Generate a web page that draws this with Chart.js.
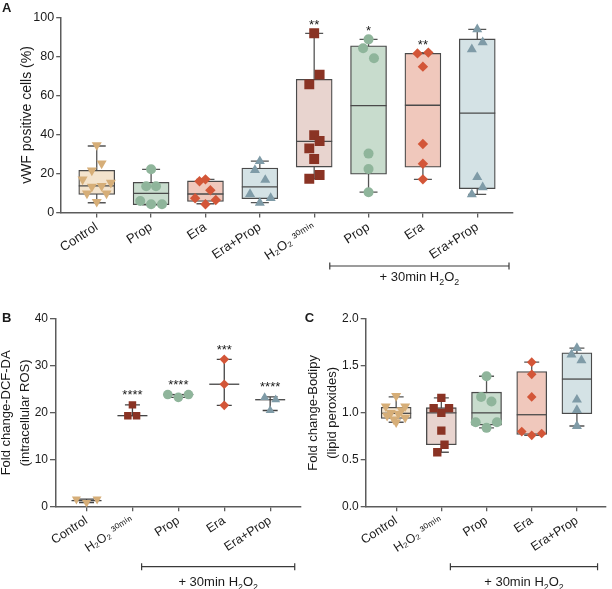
<!DOCTYPE html>
<html><head><meta charset="utf-8">
<script src="https://cdn.jsdelivr.net/npm/chart.js@4.4.1/dist/chart.umd.min.js"></script>
<style>
html,body{margin:0;padding:0;background:#fff;}
#wrap{position:relative;width:612px;height:589px;overflow:hidden;background:#fff;}
canvas{position:absolute;}
</style></head><body>
<div id="wrap">
<canvas id="cA" style="left:0;top:0"></canvas>
<canvas id="cB" style="left:0;top:300px"></canvas>
<canvas id="cC" style="left:300px;top:300px"></canvas>
</div>
<script>
// ---------------- DATA ----------------
// Panel A : vWF positive cells (%)
const catsA = ['Control', 'Prop', 'Era', 'Era+Prop', 'H₂O₂ ³⁰ᵐⁱⁿ', 'Prop', 'Era', 'Era+Prop'];
const yTicksA = [0, 20, 40, 60, 80, 100];
const minA = [5.0, 3.9, 4.5, 5.1, 17.3, 10.4, 17.0, 9.3];
const q1A  = [9.3, 4.0, 5.7, 7.1, 23.3, 19.6, 23.2, 12.2];
const medA = [13.7, 9.8, 9.5, 13.1, 36.5, 54.8, 55.0, 51.0];
const q3A  = [21.6, 15.5, 16.2, 22.8, 68.3, 85.5, 81.6, 89.0];
const maxA = [34.1, 22.1, 17.0, 26.3, 91.9, 88.8, 82.0, 93.9];
const starsA = ['', '', '', '', '**', '*', '**', ''];
const A_control   = [34.6, 25.2, 21.6, 17.0, 15.3, 13.2, 13.6, 9.8, 9.8, 5.5];
const A_prop      = [22.2, 13.5, 13.5, 5.9, 4.2, 4.2];
const A_era       = [16.0, 17.0, 11.4, 7.3, 6.4, 4.2];
const A_eraProp   = [26.3, 21.8, 16.7, 9.5, 7.4, 5.0];
const A_h2o2      = [91.9, 70.7, 65.7, 39.7, 36.7, 32.9, 27.4, 19.2, 17.3];
const A_h2o2Prop  = [88.8, 84.2, 79.1, 30.2, 22.3, 10.4];
const A_h2o2Era   = [81.6, 82.0, 74.8, 35.1, 25.0, 17.0];
const A_h2o2EraProp = [93.9, 87.3, 83.7, 18.1, 12.9, 9.3];

// Panel B : Fold change DCF-DA (median with range)
const catsB = ['Control', 'H₂O₂ ³⁰ᵐⁱⁿ', 'Prop', 'Era', 'Era+Prop'];
const yTicksB = [0, 10, 20, 30, 40];
const minB = [0.9, 19.4, 23.3, 21.6, 20.5];
const medB = [1.3, 19.4, 23.9, 26.1, 22.8];
const maxB = [1.6, 21.7, 23.9, 31.4, 23.4];
const starsB = ['', '****', '****', '***', '****'];
const B_control = [1.6, 0.9, 1.6];
const B_h2o2    = [21.7, 19.4, 19.4];
const B_prop    = [23.9, 23.3, 23.9];
const B_era     = [31.4, 26.1, 21.6];
const B_eraProp = [23.3, 22.8, 20.5];

// Panel C : Fold change Bodipy
const catsC = ['Control', 'H₂O₂ ³⁰ᵐⁱⁿ', 'Prop', 'Era', 'Era+Prop'];
const yTicksC = [0, 0.5, 1.0, 1.5, 2.0];
const minC = [0.90, 0.58, 0.84, 0.76, 0.86];
const q1C  = [0.94, 0.66, 0.87, 0.77, 0.99];
const medC = [0.995, 1.0, 1.0, 0.98, 1.36];
const q3C  = [1.06, 1.055, 1.22, 1.44, 1.64];
const maxC = [1.17, 1.16, 1.39, 1.54, 1.69];
const C_control = [1.18, 1.07, 1.07, 1.03, 1.0, 0.99, 0.97, 0.95, 0.93, 0.90];
const C_h2o2    = [1.16, 1.05, 1.05, 1.0, 0.81, 0.66, 0.58];
const C_prop    = [1.39, 1.17, 1.12, 0.90, 0.90, 0.84];
const C_era     = [1.54, 1.41, 1.17, 0.80, 0.76, 0.78];
const C_eraProp = [1.62, 1.69, 1.56, 1.14, 1.03, 0.86];

// horizontal scatter of the dots inside each column (category units)
const jA = [[0,.09,-.09,-.26,.26,-.09,.09,-.18,.18,0],[0,-.09,.09,-.2,0,.2],[-.11,0,.09,-.19,.19,0],[0,-.09,.1,-.18,.2,0],
            [0,.1,-.09,0,.1,-.09,0,.1,-.09],[0,-.1,.1,0,0,0],[-.1,.1,0,0,0,0],[0,.1,-.1,0,.1,-.1]];
const jB = [[-.22,0,.23],[0,-.1,.09],[-.23,0,.22],[0,0,0],[-.12,.12,0]];
const jC = [[0,-.23,.2,.12,-.12,.05,-.2,.2,-.05,0],[0,-.17,.17,0,0,.07,-.09],[0,-.12,.11,-.24,.23,0],[0,0,0,-.22,0,.22],[-.12,0,.1,0,0,0]];

const bracketLabel = [{t:'+ 30min H'},{t:'2',sub:true},{t:'O'},{t:'2',sub:true}];

// ---------------- STYLE ----------------
const FONT = "'Liberation Sans', Arial, Helvetica, 'DejaVu Sans', sans-serif";
const AXIS = '#5c5c5c';
const INK = '#1a1a1a';
const BOX_LINE = '#4a4a4a';
const ST = {
  control: {shape:'triangle', rot:180, color:'#d6ae78', fill:'#f3e3cd'},
  h2o2:    {shape:'rect',     rot:0,   color:'#8a3324', fill:'#e8d4cf'},
  prop:    {shape:'circle',   rot:0,   color:'#8fb59b', fill:'#c8dccd'},
  era:     {shape:'rectRot',  rot:0,   color:'#d35638', fill:'#f0c8bc'},
  eraProp: {shape:'triangle', rot:0,   color:'#7f9ba7', fill:'#d4e2e5'}
};

function drawRich(ctx, parts, cx, baseY, size) {
  const fs = pt => (pt.sub ? size * 0.68 : size);
  const widths = parts.map(pt => { ctx.font = fs(pt) + 'px ' + FONT; return ctx.measureText(pt.t).width; });
  let x = cx - widths.reduce((a, b) => a + b, 0) / 2;
  ctx.textAlign = 'left'; ctx.textBaseline = 'alphabetic';
  parts.forEach((pt, i) => {
    ctx.font = fs(pt) + 'px ' + FONT;
    ctx.fillText(pt.t, x, baseY + (pt.sub ? size * 0.27 : 0));
    x += widths[i];
  });
}

function buildChart(p) {
  const el = document.getElementById(p.id);
  el.width = p.w; el.height = p.h;
  el.style.width = p.w + 'px'; el.style.height = p.h + 'px';
  const datasets = [];
  if (p.q1) {
    datasets.push({
      type: 'bar', order: 2,
      data: p.cats.map((c, i) => ({x: i, y: [p.q1[i], p.q3[i]]})),
      backgroundColor: p.styles.map(s => s.fill),
      borderColor: BOX_LINE, borderWidth: 1.3, borderSkipped: false,
      barThickness: p.boxW, grouped: false
    });
  }
  p.points.forEach((vals, g) => {
    const s = p.styles[g];
    datasets.push({
      type: 'scatter', order: 1,
      data: vals.map((v, k) => ({x: g + p.jitter[g][k], y: v})),
      pointStyle: s.shape, pointRotation: s.rot,
      pointRadius: p.marker[s.shape], pointHoverRadius: p.marker[s.shape],
      pointBackgroundColor: s.color, pointBorderColor: s.color, pointBorderWidth: 0,
      showLine: false
    });
  });

  const overlay = {
    id: 'overlay' + p.id,
    beforeDatasetsDraw(chart) {
      const ctx = chart.ctx, xs = chart.scales.x, ys = chart.scales.y;
      ctx.save();
      ctx.strokeStyle = p.whisker; ctx.lineWidth = 1.3;
      p.cats.forEach((c, i) => {
        const x = xs.getPixelForValue(i);
        const y0 = ys.getPixelForValue(p.min[i]), y1 = ys.getPixelForValue(p.max[i]);
        ctx.beginPath();
        ctx.moveTo(x, y0); ctx.lineTo(x, y1);
        ctx.moveTo(x - p.capW / 2, y0); ctx.lineTo(x + p.capW / 2, y0);
        ctx.moveTo(x - p.capW / 2, y1); ctx.lineTo(x + p.capW / 2, y1);
        ctx.stroke();
        if (!p.q1) {
          const ym = ys.getPixelForValue(p.med[i]);
          ctx.beginPath(); ctx.moveTo(x - p.medW / 2, ym); ctx.lineTo(x + p.medW / 2, ym); ctx.stroke();
        }
      });
      ctx.restore();
    },
    afterDatasetDraw(chart, args) {
      if (!p.q1 || args.meta.type !== 'bar') return;
      const ctx = chart.ctx, xs = chart.scales.x, ys = chart.scales.y;
      ctx.save(); ctx.strokeStyle = BOX_LINE; ctx.lineWidth = 1.3;
      p.cats.forEach((c, i) => {
        const x = xs.getPixelForValue(i), ym = ys.getPixelForValue(p.med[i]);
        ctx.beginPath(); ctx.moveTo(x - p.boxW / 2, ym); ctx.lineTo(x + p.boxW / 2, ym); ctx.stroke();
      });
      ctx.restore();
    },
    afterDraw(chart) {
      const ctx = chart.ctx, xs = chart.scales.x, ys = chart.scales.y;
      ctx.save();
      ctx.fillStyle = INK;
      // significance stars
      ctx.font = p.starFont + 'px ' + FONT; ctx.textAlign = 'center'; ctx.textBaseline = 'alphabetic';
      p.stars.forEach((s, i) => {
        if (!s) return;
        const top = Math.max(p.max[i], ...p.points[i]);
        ctx.fillText(s, xs.getPixelForValue(i), ys.getPixelForValue(top) - p.starGap + 0.57 * p.starFont);
      });
      // bracket
      const b = p.bracket;
      const bx1 = xs.getPixelForValue(b.x1), bx2 = xs.getPixelForValue(b.x2);
      ctx.strokeStyle = '#3a3a3a'; ctx.lineWidth = 1.2;
      ctx.beginPath();
      ctx.moveTo(bx1, b.y); ctx.lineTo(bx2, b.y);
      ctx.moveTo(bx1, b.y - 3.5); ctx.lineTo(bx1, b.y + 3.5);
      ctx.moveTo(bx2, b.y - 3.5); ctx.lineTo(bx2, b.y + 3.5);
      ctx.stroke();
      drawRich(ctx, bracketLabel, (bx1 + bx2) / 2, b.textY, 13);
      // panel letter
      ctx.font = 'bold 13px ' + FONT; ctx.textAlign = 'left'; ctx.textBaseline = 'alphabetic';
      ctx.fillText(p.letter.t, p.letter.x, p.letter.y);
      ctx.restore();
    }
  };

  return new Chart(el, {
    type: 'scatter',
    data: {datasets},
    options: {
      responsive: false, maintainAspectRatio: false, animation: false, devicePixelRatio: 1,
      layout: {padding: {left: 0, top: p.padTop, right: p.padRight, bottom: 0}},
      plugins: {legend: {display: false}, tooltip: {enabled: false}},
      scales: {
        x: {
          type: 'linear', min: p.xMin, max: p.xMax, offset: false, bounds: 'data',
          afterBuildTicks: s => { s.ticks = p.cats.map((c, i) => ({value: i})); },
          afterFit: s => { s.height = p.xH; },
          ticks: {autoSkip: false, minRotation: p.rot, maxRotation: p.rot, padding: p.xPad,
                  callback: (v, i) => p.cats[i], color: INK, font: {family: FONT, size: p.xFont}},
          grid: {display: true, drawOnChartArea: false, drawTicks: true, tickLength: p.xTickLen, color: AXIS, lineWidth: 1.3, offset: false},
          border: {display: true, color: AXIS, width: 1.5}
        },
        y: {
          type: 'linear', min: p.yMin, max: p.yMax, bounds: 'data',
          afterBuildTicks: s => { s.ticks = p.yTicks.map(v => ({value: v})); },
          afterFit: s => { s.width = p.yW; },
          ticks: {padding: 2, color: INK, font: {family: FONT, size: p.yFont}, callback: v => p.yFmt(v)},
          grid: {display: true, drawOnChartArea: false, drawTicks: true, tickLength: p.yTickLen, color: AXIS, lineWidth: 1.3},
          border: {display: true, color: AXIS, width: 1.5},
          title: {display: true, text: p.title, color: INK,
                  font: {family: FONT, size: p.titleSize, lineHeight: p.titleLH},
                  padding: {top: p.titlePad, bottom: 0}}
        }
      }
    },
    plugins: [overlay]
  });
}

buildChart({
  id: 'cA', w: 612, h: 300, padTop: 17.5, padRight: 99.3, yW: 60.7, xH: 87.5,
  xMin: -0.663, xMax: 7.652, yMin: 0, yMax: 100, yTicks: yTicksA, yFmt: v => String(v),
  cats: catsA, q1: q1A, q3: q3A, med: medA, min: minA, max: maxA, stars: starsA,
  points: [A_control, A_prop, A_era, A_eraProp, A_h2o2, A_h2o2Prop, A_h2o2Era, A_h2o2EraProp], jitter: jA,
  styles: [ST.control, ST.prop, ST.era, ST.eraProp, ST.h2o2, ST.prop, ST.era, ST.eraProp],
  marker: {triangle: 5.8, rect: 7, circle: 5, rectRot: 5.2},
  boxW: 36, capW: 18, whisker: '#555555',
  starFont: 13, starGap: 11.5,
  rot: 33, xPad: 2, xFont: 13, yFont: 12.5, xTickLen: 5, yTickLen: 4.5,
  title: 'vWF positive cells (%)', titleSize: 14, titleLH: 1.2, titlePad: 19.1,
  bracket: {x1: 4.287, x2: 7.584, y: 266, textY: 281},
  letter: {t: 'A', x: 2, y: 11.7}
});

buildChart({
  id: 'cB', w: 306, h: 289, padTop: 19, padRight: 4, yW: 56, xH: 82.3,
  xMin: -0.665, xMax: 4.665, yMin: 0, yMax: 40, yTicks: yTicksB, yFmt: v => String(v),
  cats: catsB, q1: null, med: medB, min: minB, max: maxB, stars: starsB,
  points: [B_control, B_h2o2, B_prop, B_era, B_eraProp], jitter: jB,
  styles: [ST.control, ST.h2o2, ST.prop, ST.era, ST.eraProp],
  marker: {triangle: 5.2, rect: 5.3, circle: 4.8, rectRot: 4.8},
  capW: 15, medW: 30, whisker: '#444444',
  starFont: 13, starGap: 13,
  rot: 33, xPad: 2, xFont: 12.5, yFont: 12, xTickLen: 4.5, yTickLen: 6,
  title: ['Fold change-DCF-DA', '(intracellular ROS)'], titleSize: 13, titleLH: 1.42, titlePad: -2.7,
  bracket: {x1: 1.2, x2: 4.535, y: 266.7, textY: 286},
  letter: {t: 'B', x: 2, y: 22}
});

buildChart({
  id: 'cC', w: 312, h: 289, padTop: 19, padRight: 2, yW: 65.7, xH: 82.3,
  xMin: -0.674, xMax: 4.646, yMin: 0, yMax: 2, yTicks: yTicksC, yFmt: v => v.toFixed(1),
  cats: catsC, q1: q1C, q3: q3C, med: medC, min: minC, max: maxC, stars: ['', '', '', '', ''],
  points: [C_control, C_h2o2, C_prop, C_era, C_eraProp], jitter: jC,
  styles: [ST.control, ST.h2o2, ST.prop, ST.era, ST.eraProp],
  marker: {triangle: 5.8, rect: 5.9, circle: 5, rectRot: 4.8},
  boxW: 30, capW: 15, whisker: '#555555',
  starFont: 13, starGap: 13,
  rot: 33, xPad: 2, xFont: 12.5, yFont: 12, xTickLen: 4.5, yTickLen: 5,
  title: ['Fold change-Bodipy', '(lipid peroxides)'], titleSize: 13, titleLH: 1.45, titlePad: 3.7,
  bracket: {x1: 1.2, x2: 4.457, y: 266.7, textY: 286},
  letter: {t: 'C', x: 4.7, y: 22}
});
</script>
</body></html>
